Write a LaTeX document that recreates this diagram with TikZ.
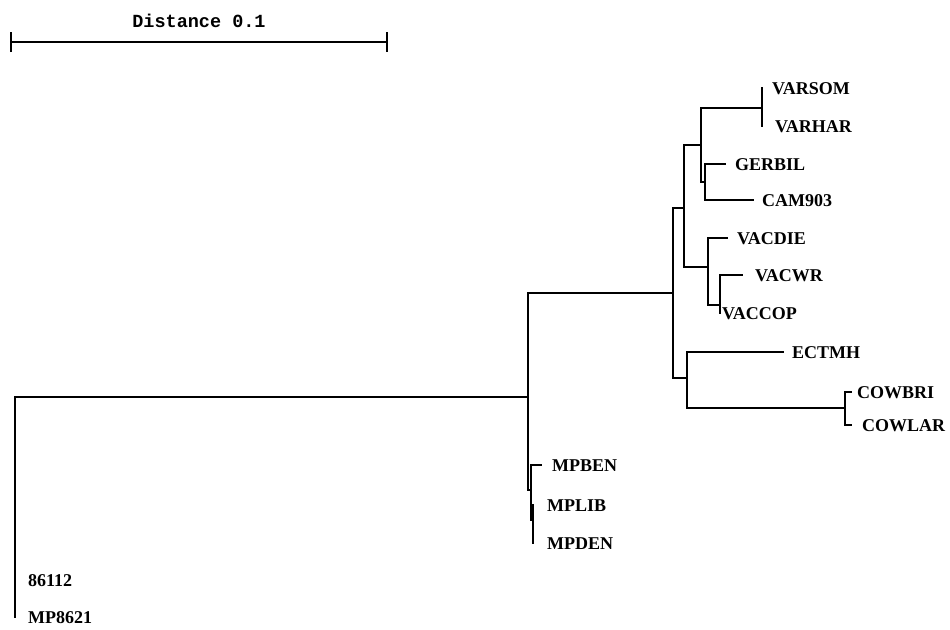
\documentclass[tikz,border=0pt]{standalone}
\usepackage{fontspec}
\setmainfont{Liberation Serif}
\newfontfamily\barfont{Liberation Mono}
\usetikzlibrary{positioning,arrows.meta}

\tikzset{
  branch/.style={line width=1.8pt,line cap=rect,line join=miter},
  taxon/.style={anchor=west,inner sep=0pt,font=\fontsize{18}{18}\selectfont\bfseries,
    text height=12pt,text depth=0pt},
}

\begin{document}
\begin{tikzpicture}[x=1pt,y=-1pt]
\useasboundingbox (0,0) rectangle (950,629);
% scale bar
\coordinate (s0) at (10,42); \coordinate (s1) at (388,42);
\draw[branch,line cap=butt,{Bar[width=20pt,line width=1.8pt]}-{Bar[width=20pt,line width=1.8pt]}] (s0) -- (s1);
\node[font=\barfont\fontsize{18.5}{18.5}\selectfont\bfseries] (dist) at (199,21) {Distance 0.1};
% internal nodes
\coordinate (root) at (15,397);
\coordinate (A) at (528,397);
\coordinate (B) at (673,293);
\coordinate (C) at (531,490);
\coordinate (D) at (533,520);
\coordinate (E) at (684,208);
\coordinate (F) at (687,378);
\coordinate (G) at (701,145);
\coordinate (H) at (708,267);
\coordinate (I) at (762,108);
\coordinate (J) at (705,182);
\coordinate (K) at (720,305);
\coordinate (L) at (845,408);
% tips
\coordinate (t86112) at (15,580); \coordinate (tMP8621) at (15,617);
\coordinate (tMPBEN) at (541,465); \coordinate (tMPLIB) at (533,505);
\coordinate (tMPDEN) at (533,543);
\coordinate (tVARSOM) at (762,88); \coordinate (tVARHAR) at (762,126);
\coordinate (tGERBIL) at (725,164); \coordinate (tCAM903) at (753,200);
\coordinate (tVACDIE) at (727,238); \coordinate (tVACWR) at (742,275);
\coordinate (tVACCOP) at (720,313);
\coordinate (tECTMH) at (783,352);
\coordinate (tCOWBRI) at (851,392); \coordinate (tCOWLAR) at (851,425);
% branches
\foreach \p/\c in {root/A,root/t86112,root/tMP8621,
    A/B,A/C,C/tMPBEN,C/D,D/tMPLIB,D/tMPDEN,
    B/E,B/F,E/G,E/H,G/I,G/J,I/tVARSOM,I/tVARHAR,
    J/tGERBIL,J/tCAM903,H/tVACDIE,H/K,K/tVACWR,K/tVACCOP,
    F/tECTMH,F/L,L/tCOWBRI,L/tCOWLAR}
  \draw[branch] (\p) |- (\c);
% taxon labels
\foreach \t/\g in {86112/13,MP8621/13,MPBEN/11,MPLIB/14,MPDEN/14,
    VARSOM/10,VARHAR/13,GERBIL/10,CAM903/9,VACDIE/10,VACWR/13,VACCOP/2,
    ECTMH/9,COWBRI/6,COWLAR/11}
  \node[taxon,right=\g pt of t\t] (\t) {\t};
\end{tikzpicture}
\end{document}
